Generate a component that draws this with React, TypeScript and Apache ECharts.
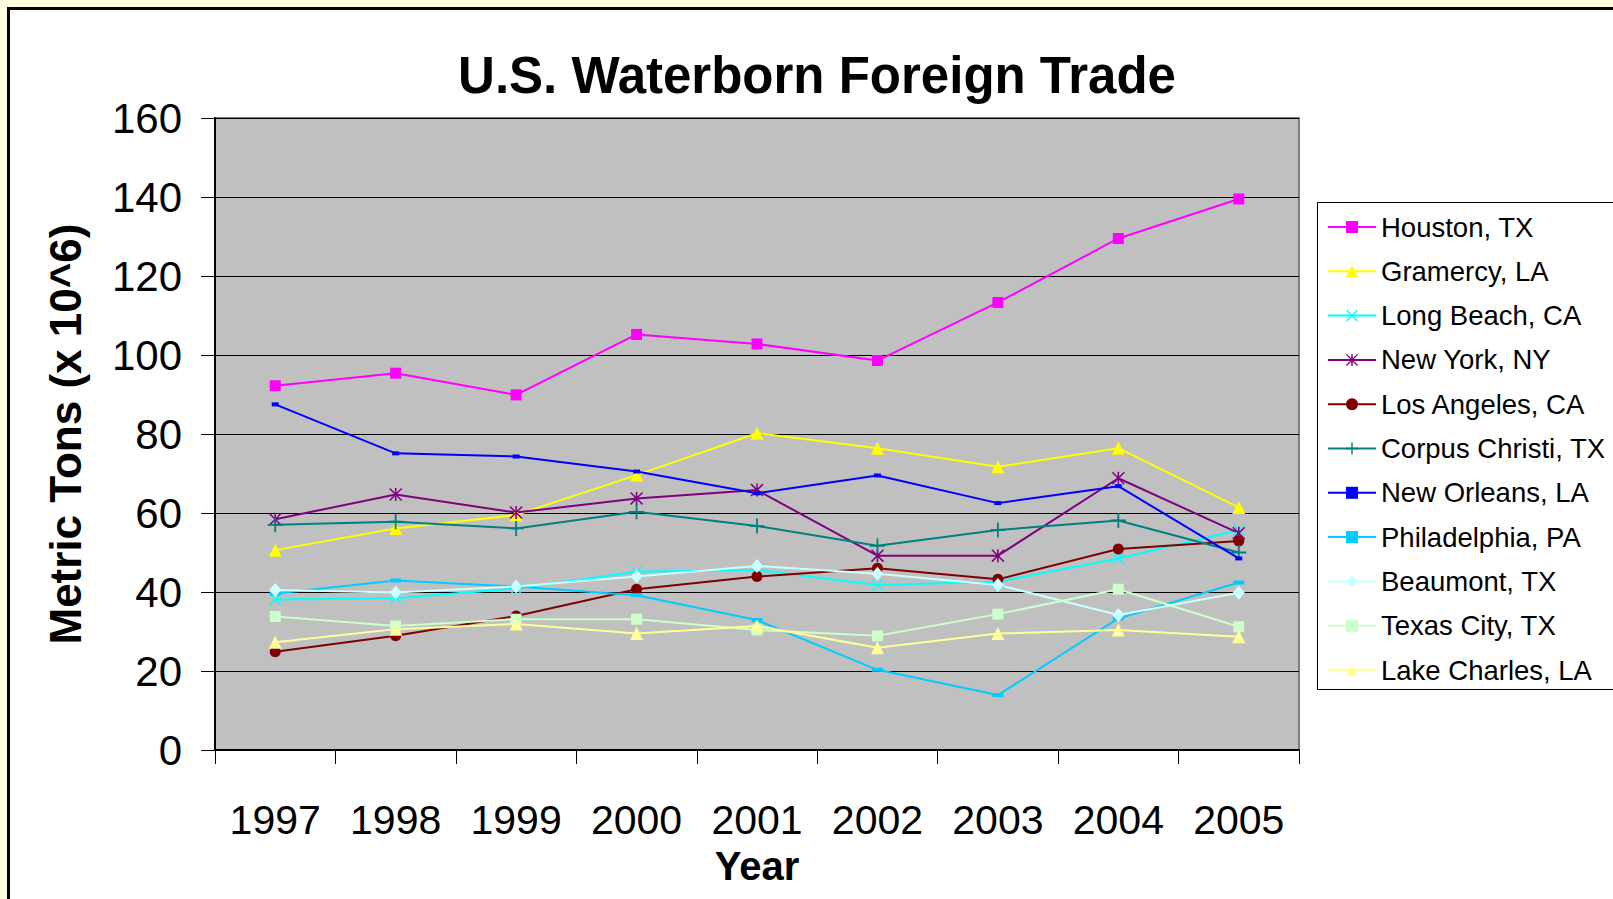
import React, { useEffect, useRef } from "react";
import * as echarts from "echarts";

const years = ["1997", "1998", "1999", "2000", "2001", "2002", "2003", "2004", "2005"];
const yTicks = [0, 20, 40, 60, 80, 100, 120, 140, 160];

const houston = [92.2, 95.4, 89.9, 105.2, 102.8, 98.6, 113.3, 129.5, 139.5];
const gramercy = [50.6, 56.1, 59.5, 69.6, 80.2, 76.4, 71.7, 76.4, 61.4];
const longBeach = [38.1, 38.4, 40.9, 45.1, 45.6, 41.8, 42.6, 48.5, 55.7];
const newYork = [58.4, 64.7, 60.1, 63.7, 65.8, 49.2, 49.2, 68.8, 54.9];
const losAngeles = [24.9, 28.9, 33.9, 40.7, 43.9, 46.0, 43.2, 50.9, 52.9];
const corpusChristi = [57.0, 57.8, 56.1, 60.3, 56.7, 51.7, 55.7, 58.1, 50.0];
const newOrleans = [87.5, 75.1, 74.3, 70.5, 65.0, 69.5, 62.5, 66.8, 48.5];
const philadelphia = [39.6, 42.9, 41.4, 39.2, 32.9, 20.3, 13.9, 33.3, 42.4];
const beaumont = [40.5, 39.9, 41.4, 43.9, 46.6, 44.6, 41.8, 34.2, 39.8];
const texasCity = [33.8, 31.4, 33.1, 33.1, 30.4, 28.9, 34.4, 40.7, 31.2];
const lakeCharles = [27.3, 30.6, 31.9, 29.5, 31.4, 25.9, 29.5, 30.4, 28.7];

const X_SYMBOL =
  "path://M0,0.8L0.8,0L5,4.2L9.2,0L10,0.8L5.8,5L10,9.2L9.2,10L5,5.8L0.8,10L0,9.2L4.2,5Z";
const PLUS_SYMBOL =
  "path://M4.4,0L5.6,0L5.6,4.4L10,4.4L10,5.6L5.6,5.6L5.6,10L4.4,10L4.4,5.6L0,5.6L0,4.4L4.4,4.4Z";
const STAR_SYMBOL =
  "path://M4.4,0L5.6,0L5.6,10L4.4,10ZM0,0.8L0.8,0L10,9.2L9.2,10ZM9.2,0L10,0.8L0.8,10L0,9.2Z";

const FONT = "'Liberation Sans', Arial, sans-serif";

export default function App() {
  const ref = useRef<HTMLDivElement>(null);

  useEffect(() => {
    if (!ref.current) return;
    const chart = echarts.init(ref.current, undefined, { renderer: "svg" });

    const mk = (
      name: string,
      data: number[],
      color: string,
      symbol: string,
      symbolSize: number | number[]
    ) => ({
      name,
      type: "line",
      data,
      symbol,
      symbolSize,
      showAllSymbol: true,
      lineStyle: { color, width: 2 },
      itemStyle: { color },
      emphasis: { disabled: true },
    });

    const option: any = {
      animation: false,
      textStyle: { fontFamily: FONT, color: "#000" },
      graphic: [
        {
          type: "rect",
          z: -10,
          shape: { x: 8.5, y: 8.5, width: 1700, height: 1000 },
          style: { fill: "#ffffff", stroke: "#000000", lineWidth: 3 },
          silent: true,
        },
        {
          type: "rect",
          z: -5,
          shape: { x: 1317.5, y: 202.5, width: 400, height: 487 },
          style: { fill: "transparent", stroke: "#000000", lineWidth: 1 },
          silent: true,
        },
        {
          type: "text",
          x: 817,
          y: 75,
          style: {
            text: "U.S. Waterborn Foreign Trade",
            font: `bold 51px ${FONT}`,
            fill: "#000",
            textAlign: "center",
            textVerticalAlign: "middle",
          },
        },
        {
          type: "text",
          x: 757,
          y: 866,
          style: {
            text: "Year",
            font: `bold 40px ${FONT}`,
            lineHeight: 34,
            fill: "#000",
            textAlign: "center",
            textVerticalAlign: "middle",
          },
        },
      ],
      legend: {
        orient: "vertical",
        left: 1327,
        top: 212,
        padding: 0,
        itemWidth: 48,
        itemHeight: 15,
        itemGap: 14.3,
        textStyle: { fontSize: 27.5, lineHeight: 30, color: "#000", fontFamily: FONT },
        selectedMode: false,
      },
      grid: {
        left: 215,
        top: 118,
        width: 1084,
        height: 632,
        show: true,
        backgroundColor: "#C0C0C0",
        borderColor: "#808080",
        borderWidth: 2,
      },
      xAxis: {
        type: "category",
        data: years,
        boundaryGap: true,
        axisLine: { show: true, lineStyle: { color: "#000", width: 2 } },
        axisTick: { show: true, length: 14, interval: 0, lineStyle: { color: "#000", width: 1 } },
        axisLabel: {
          fontSize: 41,
          lineHeight: 34,
          margin: 53,
          color: "#000",
          interval: 0,
          fontFamily: FONT,
        },
        splitLine: { show: false },
      },
      yAxis: {
        type: "value",
        min: yTicks[0],
        max: yTicks[yTicks.length - 1],
        interval: yTicks[1] - yTicks[0],
        name: "Metric Tons (x 10^6)",
        nameLocation: "middle",
        nameRotate: 90,
        nameGap: 128,
        nameTextStyle: { fontSize: 44, fontWeight: "bold", color: "#000", fontFamily: FONT },
        axisLine: { show: true, lineStyle: { color: "#000", width: 2 } },
        axisTick: { show: true, length: 14, lineStyle: { color: "#000", width: 1 } },
        axisLabel: { fontSize: 42, margin: 33, color: "#000", fontFamily: FONT },
        splitLine: { show: true, lineStyle: { color: "#000", width: 1 } },
      },
      series: [
        mk("Houston, TX", houston, "#FF00FF", "rect", 11),
        mk("Gramercy, LA", gramercy, "#FFFF00", "triangle", 13),
        mk("Long Beach, CA", longBeach, "#00FFFF", X_SYMBOL, 12),
        mk("New York, NY", newYork, "#800080", STAR_SYMBOL, 13),
        mk("Los Angeles, CA", losAngeles, "#800000", "circle", 11),
        mk("Corpus Christi, TX", corpusChristi, "#008080", PLUS_SYMBOL, 15),
        mk("New Orleans, LA", newOrleans, "#0000FF", "rect", [7, 4]),
        mk("Philadelphia, PA", philadelphia, "#00CCFF", "rect", [11, 4]),
        mk("Beaumont, TX", beaumont, "#CCFFFF", "diamond", [12, 14]),
        mk("Texas City, TX", texasCity, "#CCFFCC", "rect", 11),
        mk("Lake Charles, LA", lakeCharles, "#FFFF99", "triangle", 13),
      ],
    };

    chart.setOption(option);
    return () => {
      chart.dispose();
    };
  }, []);

  return (
    <div
      style={{
        position: "fixed",
        left: 0,
        top: 0,
        width: 1613,
        height: 899,
        background: "#FFFFE0",
        overflow: "hidden",
      }}
    >
      <div ref={ref} style={{ width: 1613, height: 899 }} />
    </div>
  );
}
